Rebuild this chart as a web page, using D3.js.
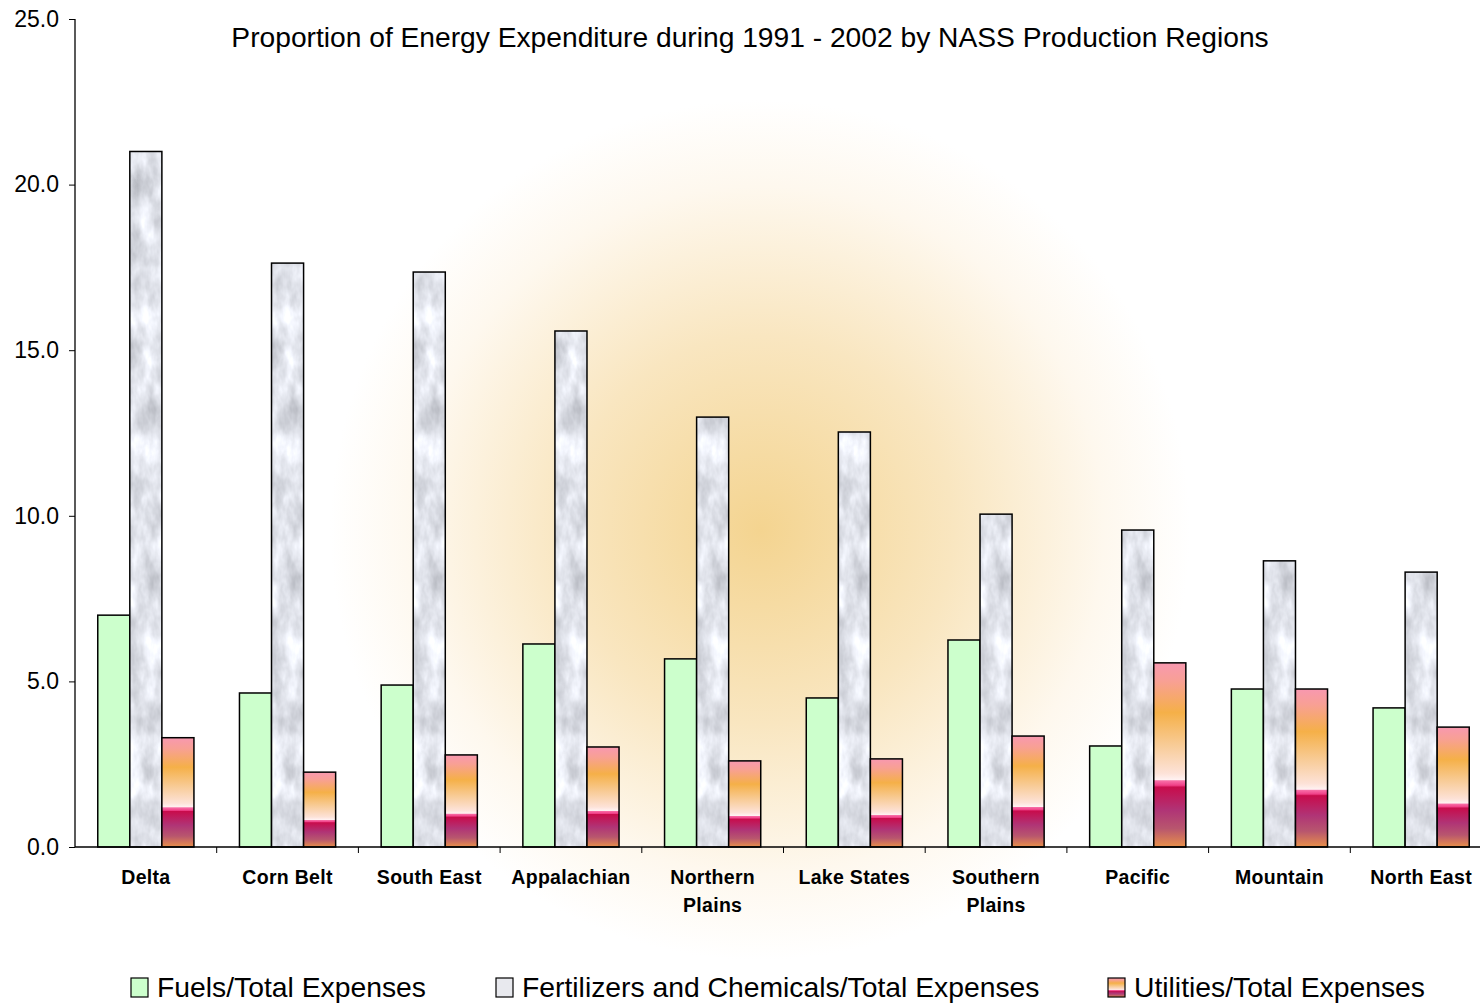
<!DOCTYPE html>
<html>
<head>
<meta charset="utf-8">
<style>
  body { margin: 0; background: #fff; }
  svg { display: block; font-family: "Liberation Sans", Arial, sans-serif; }
</style>
</head>
<body>
<script src="https://cdn.jsdelivr.net/npm/d3@7"></script>
<script>
// data
var regions = ["Delta", "Corn Belt", "South East", "Appalachian", "Northern Plains",
               "Lake States", "Southern Plains", "Pacific", "Mountain", "North East"];
var fuels = [7.0, 4.65, 4.89, 6.13, 5.68, 4.5, 6.25, 3.05, 4.77, 4.2];
var fertChem = [21.0, 17.63, 17.36, 15.58, 12.98, 12.53, 10.05, 9.57, 8.64, 8.3];
var utilities = [3.3, 2.26, 2.78, 3.02, 2.6, 2.66, 3.35, 5.56, 4.77, 3.62];
var seriesNames = ["Fuels/Total Expenses", "Fertilizers and Chemicals/Total Expenses", "Utilities/Total Expenses"];
var yTicks = [0, 5, 10, 15, 20, 25];

var W = 1480, H = 1005;
var svg = d3.select("body").append("svg").attr("width", W).attr("height", H);
var defs = svg.append("defs");

// soft glow behind the plot
var glow = defs.append("radialGradient").attr("id", "glow")
    .attr("gradientUnits", "userSpaceOnUse")
    .attr("cx", 760).attr("cy", 530).attr("r", 430);
glow.append("stop").attr("offset", 0).attr("stop-color", "#f4d490");
glow.append("stop").attr("offset", 0.45).attr("stop-color", "#f9e6c0");
glow.append("stop").attr("offset", 0.8).attr("stop-color", "#fef8ee");
glow.append("stop").attr("offset", 1).attr("stop-color", "#ffffff");

// utilities bar gradient (top to bottom of each bar)
var ug = defs.append("linearGradient").attr("id", "util")
    .attr("x1", 0).attr("y1", 0).attr("x2", 0).attr("y2", 1);
[[0, "#f898b0"], [0.1, "#f8a094"], [0.27, "#f5b048"], [0.45, "#f8cc98"],
 [0.6, "#fde2d8"], [0.635, "#fff2f2"], [0.64, "#f870a8"], [0.665, "#f04088"],
 [0.675, "#c80c4c"], [0.8, "#b03476"], [0.9, "#b8566e"], [1, "#e8904a"]]
  .forEach(function(s) { ug.append("stop").attr("offset", s[0]).attr("stop-color", s[1]); });

// marble texture for fertilizer bars
var marble = defs.append("filter").attr("id", "marble")
    .attr("color-interpolation-filters", "sRGB")
    .attr("x", 0).attr("y", 0).attr("width", 1).attr("height", 1);
marble.append("feTurbulence").attr("type", "fractalNoise")
    .attr("baseFrequency", "0.06 0.03").attr("numOctaves", 4).attr("seed", 3).attr("result", "n");
marble.append("feColorMatrix").attr("in", "n").attr("type", "matrix")
    .attr("values", "0.4 0 0 0 0.68  0.4 0 0 0 0.69  0.4 0 0 0 0.72  0 0 0 0 1").attr("result", "g");
marble.append("feComposite").attr("in", "g").attr("in2", "SourceAlpha").attr("operator", "in");

var y = d3.scaleLinear().domain([0, 25]).range([847, 19]);
var x0 = d3.scaleBand().domain(regions).range([75, 1492]).paddingInner(0).paddingOuter(0);
var x1 = d3.scaleBand().domain([0, 1, 2]).range([0, x0.bandwidth()]).paddingOuter(0.71).paddingInner(0);

svg.append("rect").attr("x", 0).attr("y", 0).attr("width", W).attr("height", H).attr("fill", "url(#glow)");

// y axis
var yAxis = svg.append("g").attr("transform", "translate(75,0)")
    .call(d3.axisLeft(y).tickValues(yTicks).tickFormat(d3.format(".1f")).tickSize(6).tickPadding(10));
yAxis.select(".domain").attr("stroke", "#000").attr("stroke-width", 1.3).attr("d", "M0,19V847");
yAxis.selectAll(".tick line").attr("stroke", "#000");
yAxis.selectAll("text").attr("font-size", 23).attr("fill", "#000")
    .attr("font-family", "'Liberation Sans', Arial, sans-serif");

// bars
var groups = svg.selectAll("g.region").data(regions).join("g")
    .attr("class", "region")
    .attr("transform", function(d) { return "translate(" + x0(d) + ",0)"; });

groups.append("rect")
    .attr("x", x1(0)).attr("width", x1.bandwidth())
    .attr("y", function(d, i) { return y(fuels[i]); })
    .attr("height", function(d, i) { return y(0) - y(fuels[i]); })
    .attr("fill", "#ccffcc").attr("stroke", "#000").attr("stroke-width", 1.5);

groups.append("rect")
    .attr("x", x1(1)).attr("width", x1.bandwidth())
    .attr("y", function(d, i) { return y(fertChem[i]); })
    .attr("height", function(d, i) { return y(0) - y(fertChem[i]); })
    .attr("fill", "#e8e9ee").attr("filter", "url(#marble)");
groups.append("rect")
    .attr("x", x1(1)).attr("width", x1.bandwidth())
    .attr("y", function(d, i) { return y(fertChem[i]); })
    .attr("height", function(d, i) { return y(0) - y(fertChem[i]); })
    .attr("fill", "none").attr("stroke", "#000").attr("stroke-width", 1.5);

groups.append("rect")
    .attr("x", x1(2)).attr("width", x1.bandwidth())
    .attr("y", function(d, i) { return y(utilities[i]); })
    .attr("height", function(d, i) { return y(0) - y(utilities[i]); })
    .attr("fill", "url(#util)").attr("stroke", "#000").attr("stroke-width", 1.5);

// x axis
var xAxis = svg.append("g").attr("transform", "translate(0,847)");
xAxis.append("line").attr("x1", 75).attr("x2", W).attr("stroke", "#000").attr("stroke-width", 1.3);
xAxis.selectAll("line.tk").data(regions.slice(1)).join("line").attr("class", "tk")
    .attr("x1", function(d) { return x0(d); }).attr("x2", function(d) { return x0(d); })
    .attr("y1", 0).attr("y2", 6).attr("stroke", "#000");

var lbl = xAxis.selectAll("text").data(regions).join("text")
    .attr("x", function(d) { return x0(d) + x0.bandwidth() / 2; })
    .attr("y", 37).attr("text-anchor", "middle")
    .attr("font-size", 19.5).attr("font-weight", "bold").attr("letter-spacing", 0.3).attr("fill", "#000");
lbl.each(function(d) {
  var words = d.split(" ");
  var t = d3.select(this);
  if (words.length > 1 && d.length > 11) {
    words.forEach(function(w, k) {
      t.append("tspan").attr("x", x0(d) + x0.bandwidth() / 2).attr("dy", k ? 28 : 0).text(w);
    });
  } else {
    t.text(d);
  }
});

// title
svg.append("text").attr("x", 750).attr("y", 47).attr("text-anchor", "middle")
    .attr("font-size", 28.2).attr("fill", "#000")
    .text("Proportion of Energy Expenditure during 1991 - 2002 by NASS Production Regions");

// legend
var legX = [131, 496, 1108];
var legFill = ["#ccffcc", "#e8e9ee", "url(#util)"];
var leg = svg.selectAll("g.leg").data(seriesNames).join("g").attr("class", "leg")
    .attr("transform", function(d, i) { return "translate(" + legX[i] + ",978)"; });
leg.append("rect").attr("width", 17).attr("height", 19)
    .attr("fill", function(d, i) { return legFill[i]; })
    .attr("stroke", "#000").attr("stroke-width", 1.2);
leg.append("text").attr("x", 26).attr("y", 19).attr("font-size", 28.3).attr("fill", "#000")
    .text(function(d) { return d; });
</script>
</body>
</html>
